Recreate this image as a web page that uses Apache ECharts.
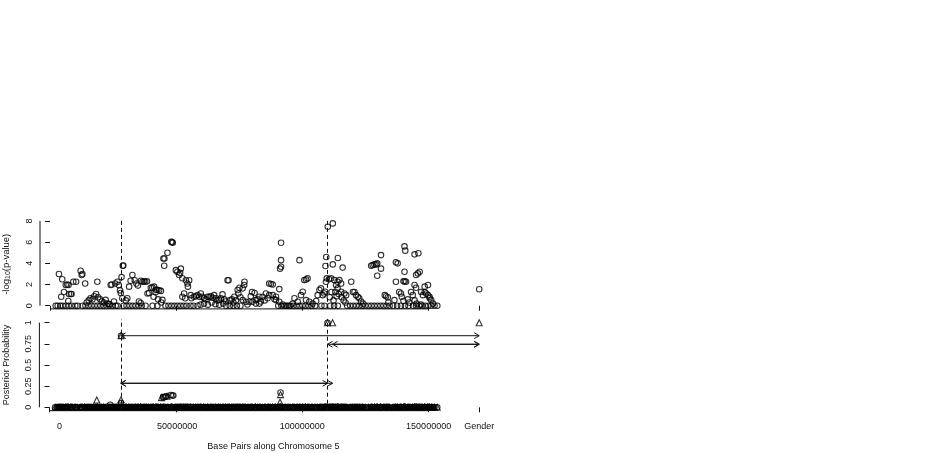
<!DOCTYPE html>
<html>
<head>
<meta charset="utf-8">
<script src="https://cdn.jsdelivr.net/npm/echarts@6/dist/echarts.min.js"></script>
<style>
  html, body { margin: 0; padding: 0; background: #fff; }
  #chart { width: 952px; height: 453px; }
</style>
</head>
<body>
<div id="chart"></div>
<script>
// x positions are in Mb along chromosome 5, "Gender" sits after the last SNP
var GENDER = 170;
var xTickPos = [0, 50, 100, 150, GENDER];
var xTickLabels = ['        0', ' 50000000', '100000000', '150000000', 'Gender'];
var logpTicks = [0, 2, 4, 6, 8];
var postTicks = [0, 0.25, 0.5, 0.75, 1];

// [position (Mb), -log10(p)]
var logpPoints = [
  [2.2,0],[3.0,0],[3.5,3.0],[4.0,0],[4.4,0.85],[4.8,2.5],[5.0,0],[5.5,1.3],[6.2,1.95],[6.2,0],[6.8,2.0],[7.2,0.45],
  [7.3,1.95],[7.4,0],[7.5,1.1],[8.2,1.1],[8.5,1.1],[8.6,0],[9.2,2.26],[10.0,0],[10.3,2.26],[10.9,0],
  [12.1,3.3],[12.5,2.9],[12.8,3.0],[12.9,0],[13.9,2.1],[14.0,0],[14.5,0.3],[15.2,0],[15.3,0.5],[16.0,0.7],[16.4,0],
  [16.8,0.6],[17.5,0.9],[17.6,0],[18.2,1.1],[18.7,2.26],[18.8,0],[19.0,0.8],[19.8,0.6],[20.0,0],[20.5,0.4],[21.2,0],
  [21.3,0.3],[22.0,0.55],[22.4,0],[22.8,0.2],[23.5,0.15],[23.6,0],[24.0,1.95],[24.4,2.0],[24.8,0],[25.3,0.4],[25.8,2.1],
  [26.0,0],[26.7,2.26],[26.7,0],[27.2,1.95],[27.7,1.45],[28.0,1.2],[28.3,2.7],[28.6,0.7],[28.8,3.77],[29.0,3.8],[29.1,0],
  [30.0,0.5],[30.3,0],[30.6,0.7],[31.3,1.8],[31.5,0],[31.9,2.36],[32.6,2.9],[32.7,0],[33.5,2.4],[33.9,0],[34.2,2.1],
  [34.8,1.9],[35.1,0],[35.2,0.4],[35.9,0.25],[36.0,2.36],[36.3,0],[36.6,2.26],[37.2,2.3],[37.7,2.26],[37.8,0],[38.4,2.3],
  [38.6,1.16],[39.2,1.2],[39.9,1.7],[40.5,1.73],[40.6,0],[41.0,0.85],[41.2,1.8],[41.8,1.26],[42.0,1.5],[42.5,1.5],[42.5,0],
  [42.8,0.6],[43.2,1.45],[43.9,1.4],[44.0,0.3],[44.5,0.55],
  [44.9,4.46],[45.2,3.77],[45.3,4.46],[45.7,0],[46.5,5.0],[46.9,0],[48.0,6.04],[48.1,0],[48.3,6.0],[48.6,5.95],[49.3,0],
  [49.8,3.36],[50.4,3.2],[50.5,0],[51.1,2.9],[51.5,3.1],[51.7,0],[51.8,3.5],[52.4,2.6],[52.4,0.85],[52.9,0],[53.1,1.16],
  [53.5,0.7],[53.8,2.4],[54.1,0],[54.4,2.1],[54.6,1.8],[55.1,2.4],[55.6,0],[55.7,1.0],[56.0,0.7],[56.8,0],[57.0,0.85],
  [57.7,0.9],[58.4,1.0],[58.4,0],[59.1,0.85],[59.6,0.1],[59.7,1.16],[60.3,0.85],[61.0,0.7],[61.0,0.2],[61.6,0.6],
  [62.4,0.85],[62.5,0.1],[63.1,0.85],[63.7,0.9],[64.0,0.3],[64.4,0.75],[65.0,1.0],[65.5,0.15],[65.7,0.7],[66.3,0.5],
  [67.0,0.55],[67.0,0.1],[67.7,0.7],[68.3,1.07],[68.6,0.2],[69.0,0.6],[69.6,0.4],[69.8,0],[70.3,2.4],[70.7,2.4],[71.2,0.5],
  [71.2,0],[72.0,0.6],[72.6,0.3],[72.6,0],[73.0,0.85],[73.6,0.5],[74.0,0],[74.3,1.48],[74.6,1.16],[75.0,1.7],[75.4,0.8],
  [75.4,0],[76.3,1.64],[76.3,0.53],[76.9,1.95],[77.0,2.26],[77.6,0.38],[78.2,0.12],[78.9,0.38],[79.5,0.9],[80.0,1.3],
  [80.2,0.38],[81.0,1.2],[81.5,0.53],[81.5,0.2],[82.2,0.6],[82.9,0.85],[82.9,0.2],[83.5,0.4],[84.2,0.85],[85.0,0.5],
  [85.5,1.16],[86.2,0.7],[86.8,2.1],[86.8,1.0],[87.5,2.05],[88.2,2.0],[88.2,1.0],[88.9,0.6],[89.5,0.85],[89.5,0.53],
  [90.4,0],[90.8,0.38],[90.8,1.57],[91.1,3.5],[91.5,3.68],[91.5,4.3],[91.5,5.94],[91.6,0],[92.1,0.12],[92.8,0],[93.4,0],
  [94.0,0],[94.7,0],[95.2,0],[96.1,0.2],[96.4,0],[96.8,0.7],[97.6,0],[98.1,0.38],[98.8,4.3],[98.8,0],[99.4,1.0],[100.0,0],
  [100.1,1.32],[100.7,2.42],[101.2,0],[101.4,2.48],[101.4,0.53],[102.0,2.58],[102.4,0],[102.7,0.38],[103.6,0],[104.0,0.2],
  [105.0,0],[105.4,0.44],[106.0,1.0],[106.7,1.48],[107.3,1.64],[107.5,0],[108.0,1.0],[108.6,1.16],[108.7,0],[109.0,1.32],
  [109.1,3.75],[109.3,2.26],[109.4,4.6],[109.6,2.58],[110.0,7.45],[110.5,2.5],[110.8,0.8],[111.0,0],[111.3,2.58],
  [111.5,1.3],[112.0,7.77],[112.0,3.9],[112.3,0.5],[112.5,0],[112.6,2.42],[113.0,1.3],[113.3,1.95],[113.5,0.9],
  [113.9,2.26],[113.9,1.64],[114.0,4.5],[114.0,0],[114.3,1.1],[114.6,2.42],[115.3,2.1],[115.3,1.32],[115.5,0.8],
  [115.9,3.6],[116.3,0.5],[116.6,1.16],[117.0,0.3],[117.3,1.0],[117.7,0],[118.9,0],[119.3,2.26],[120.0,1.3],[120.1,0],
  [120.6,1.3],[121.2,1.0],[121.3,0],[121.9,0.85],[122.5,0.7],[122.5,0],[123.2,0.4],[123.7,0],[124.0,0.2],[124.9,0],
  [126.1,0],[127.2,3.77],[127.3,0],[127.8,3.84],[128.5,3.9],[128.5,0],[129.2,3.9],[129.6,4.0],[129.6,2.83],[129.7,0],
  [130.9,0],[131.1,4.78],[131.1,3.5],[132.1,0],[132.6,1.0],[133.1,0.9],[133.3,0],[133.8,0.8],[134.0,0.3],[134.5,0],
  [135.9,0],[136.4,0.53],[137.0,2.26],[137.0,4.1],[137.5,0],[137.7,4.0],[138.3,1.3],[139.0,1.16],[139.0,0],[139.3,0.85],
  [140.0,2.3],[140.0,0.44],[140.4,5.6],[140.4,3.2],[140.5,2.3],[140.6,0],[140.7,5.2],[141.0,2.26],[141.7,0.6],[142.0,0],
  [142.3,0.3],[143.0,1.3],[143.7,1.0],[143.8,0],[144.4,4.85],[144.4,1.95],[144.4,0.5],[145.0,2.9],[145.0,1.7],[145.0,0],
  [145.2,0.2],[145.7,3.05],[145.9,4.95],[146.2,0],[146.4,3.2],[146.9,0.1],[147.0,1.3],[147.4,0],[147.7,1.0],[148.4,1.8],
  [148.4,1.3],[148.6,0],[149.0,1.16],[149.7,1.95],[149.7,1.0],[149.8,0],[150.3,0.85],[150.4,0.7],[151.0,0.53],[151.0,0],
  [151.7,0.2],[152.3,0],[153.4,0]
];
var genderLogP = 1.55;

// posterior probabilities that rise above the zero band
var postTriangles = [[18.7,0.086],[28.3,0.09],[28.3,0.846],[44.3,0.115],[46.5,0.13],[91.2,0.06],[91.4,0.15],
  [110.0,1.0],[112.0,1.0],[GENDER,1.0]];
var postCircles = [[24.0,0.03],[28.3,0.05],[28.3,0.846],[44.9,0.12],[45.3,0.12],[45.8,0.125],[46.2,0.13],
  [48.0,0.145],[48.6,0.14],[49.0,0.14],[91.4,0.175],[110.0,1.0]];

// dashed lines at the selected SNPs
var markerPos = [28.2, 109.8];
// [from, to, posterior]
var arrowRows = [[28.2,GENDER,0.846],[110.0,GENDER,0.745],[112.0,GENDER,0.745],[28.2,110.0,0.284],[28.2,112.0,0.284]];

var FONT = 'Liberation Sans, Arial, Helvetica, sans-serif';
var INK = '#111';

// every SNP also sits near zero in the posterior panel
var zeroBand = logpPoints.map(function (p) { return [p[0], 0]; });

function xAxisCfg(idx, withLabels) {
  return {
    type: 'value', gridIndex: idx, min: -4, max: 178,
    axisLine: { show: false },
    splitLine: { show: false },
    axisTick: { show: true, length: 5, customValues: xTickPos, lineStyle: { color: INK, width: 1 } },
    axisLabel: {
      show: withLabels, customValues: xTickPos, margin: 11,
      fontFamily: FONT, fontSize: 9, color: INK,
      formatter: function (v) { return xTickLabels[xTickPos.indexOf(v)]; }
    },
    name: withLabels ? 'Base Pairs along Chromosome 5' : '',
    nameLocation: 'middle', nameGap: 31,
    nameTextStyle: { fontFamily: FONT, fontSize: 9, color: INK, padding: [0, 0, 0, 8] }
  };
}

function yAxisCfg(idx, min, max, ticks, name) {
  return {
    type: 'value', gridIndex: idx, min: min, max: max,
    axisLine: { show: false },
    splitLine: { show: false },
    axisTick: { show: true, length: 5, customValues: ticks, lineStyle: { color: INK, width: 1 } },
    axisLabel: {
      customValues: ticks, rotate: 90, margin: 6,
      fontFamily: FONT, fontSize: 9, color: INK
    },
    name: name, nameLocation: 'middle', nameGap: 28, nameRotate: 90,
    nameTextStyle: {
      fontFamily: FONT, fontSize: 9, color: INK,
      rich: {
        a: { fontFamily: FONT, fontSize: 9.5, color: INK, lineHeight: 12 },
        s: { fontFamily: FONT, fontSize: 7, color: INK, verticalAlign: 'bottom', lineHeight: 12 }
      }
    }
  };
}

// axis line drawn only across the tick range, like base R
function frameSeries(xi, yi, rows) {
  return {
    type: 'custom', xAxisIndex: xi, yAxisIndex: yi, silent: true, clip: false, z: 5,
    data: rows,
    encode: { x: [0, 2], y: [1, 3] },
    renderItem: function (params, api) {
      var a = api.coord([api.value(0), api.value(1)]);
      var b = api.coord([api.value(2), api.value(3)]);
      return { type: 'line', shape: { x1: a[0], y1: a[1], x2: b[0], y2: b[1] },
        style: { stroke: INK, lineWidth: 1 } };
    }
  };
}

function openMarks(xi, yi, data, symbol, size) {
  return {
    type: 'scatter', xAxisIndex: xi, yAxisIndex: yi, data: data,
    symbol: symbol, symbolSize: size, silent: true,
    itemStyle: { color: 'rgba(0,0,0,0)', borderColor: '#000', borderWidth: 1.1 },
    emphasis: { disabled: true }
  };
}

function dashedMarkers() {
  return {
    silent: true, symbol: 'none', label: { show: false },
    lineStyle: { color: INK, type: [4, 3], width: 1 },
    emphasis: { disabled: true },
    data: markerPos.map(function (x) { return { xAxis: x }; })
  };
}

var topSeries = openMarks(0, 0, logpPoints, 'circle', 5.5);
topSeries.markLine = dashedMarkers();
var bandSeries = openMarks(1, 1, zeroBand, 'circle', 5.5);
bandSeries.markLine = dashedMarkers();

var chart = echarts.init(document.getElementById('chart'), null, { renderer: 'canvas' });
chart.setOption({
  animation: false,
  backgroundColor: '#fff',
  grid: [
    { left: 39.4, width: 460, top: 219.7, height: 89.2 },
    { left: 39.4, width: 460, top: 319.3, height: 91.4 }
  ],
  xAxis: [xAxisCfg(0, false), xAxisCfg(1, true)],
  yAxis: [
    yAxisCfg(0, -0.3, 8.12, logpTicks, '{a|-log}{s|10}{a|(p-value)}'),
    yAxisCfg(1, -0.04, 1.04, postTicks, 'Posterior Probability')
  ],
  series: [
    frameSeries(0, 0, [[xTickPos[0], -0.3, xTickPos[3], -0.3], [-4, logpTicks[0], -4, logpTicks[logpTicks.length - 1]]]),
    frameSeries(1, 1, [[xTickPos[0], -0.04, xTickPos[3], -0.04], [-4, postTicks[0], -4, postTicks[postTicks.length - 1]]]),
    topSeries,
    openMarks(0, 0, [[GENDER, genderLogP]], 'circle', 5.5),
    bandSeries,
    openMarks(1, 1, zeroBand, 'triangle', 6),
    openMarks(1, 1, postCircles, 'circle', 5.5),
    openMarks(1, 1, postTriangles, 'triangle', 6),
    {
      type: 'custom', xAxisIndex: 1, yAxisIndex: 1, silent: true, clip: false, z: 4,
      data: arrowRows,
      encode: { x: [0, 1], y: 2 },
      renderItem: function (params, api) {
        var p0 = api.coord([api.value(0), api.value(2)]);
        var p1 = api.coord([api.value(1), api.value(2)]);
        var hl = 5, hw = 2.9;
        var st = { stroke: INK, lineWidth: 1, fill: 'none' };
        return { type: 'group', children: [
          { type: 'line', shape: { x1: p0[0], y1: p0[1], x2: p1[0], y2: p1[1] }, style: st },
          { type: 'polyline', shape: { points: [[p0[0] + hl, p0[1] - hw], [p0[0], p0[1]], [p0[0] + hl, p0[1] + hw]] }, style: st },
          { type: 'polyline', shape: { points: [[p1[0] - hl, p1[1] - hw], [p1[0], p1[1]], [p1[0] - hl, p1[1] + hw]] }, style: st }
        ] };
      }
    }
  ]
});
</script>
</body>
</html>
